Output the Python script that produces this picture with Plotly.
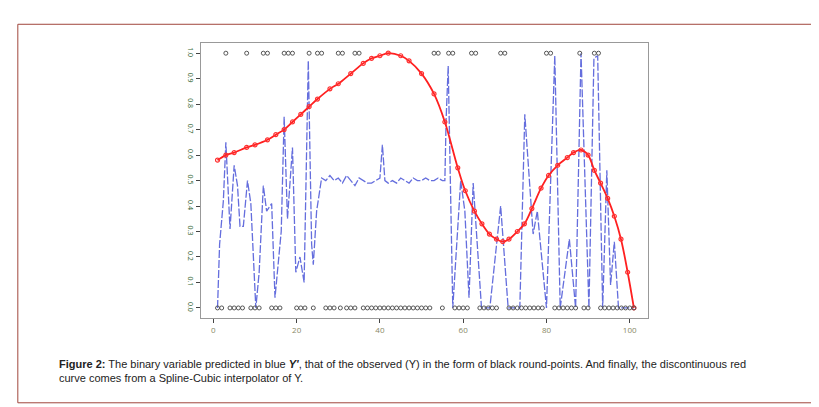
import plotly.graph_objects as go

# predicted Y' (blue)
blue_x = [1, 1.5, 2.4, 3, 4, 5, 5.8, 6.4, 7.2, 8.2, 9, 10.2, 11, 12, 12.8, 14, 14.8, 16.3, 17, 17.8,
          19, 19.8, 20.8, 21.8, 22.8, 23.6, 24, 24.8, 26, 27, 28, 29, 30, 31, 32, 33, 34, 35, 36, 37,
          38, 39, 40, 40.6, 41.2, 42, 43, 44, 45, 46, 47, 48, 49, 50, 51, 52, 53, 54, 55, 55.6,
          55.9, 56.4, 57.5, 59.4, 60.4, 61.4, 62.4, 64.4, 66.4, 69, 70.8, 73.6, 74.8, 76.8, 77.8, 80,
          82, 83.3, 85.5, 87, 88.3, 90.2, 91.4, 92.3, 93.5, 94.5, 95.4, 96.3, 97.3, 101]
blue_y = [0.0, 0.25, 0.42, 0.65, 0.31, 0.56, 0.48, 0.32, 0.32, 0.5, 0.41, 0.0, 0.14, 0.48, 0.38, 0.41, 0.04, 0.3, 0.75, 0.35,
          0.63, 0.14, 0.2, 0.1, 0.97, 0.25, 0.17, 0.38, 0.51, 0.5, 0.52, 0.5, 0.51, 0.49, 0.52, 0.5, 0.48, 0.51, 0.5, 0.49,
          0.49, 0.5, 0.51, 0.64, 0.5, 0.49, 0.5, 0.49, 0.51, 0.5, 0.49, 0.51, 0.5, 0.5, 0.51, 0.5, 0.5, 0.51, 0.5, 0.5,
          0.74, 0.95, 0.0, 0.5, 0.38, 0.04, 0.49, 0.0, 0.0, 0.4, 0.0, 0.0, 0.76, 0.29, 0.38, 0.0,
          0.99, 0.0, 0.27, 0.0, 1.0, 0.0, 0.98, 0.99, 0.0, 0.54, 0.09, 0.26, 0.0, 0.0]

# cubic spline of Y (red)
red_x = [1, 3, 5, 8, 10, 13, 15, 17, 19, 21, 23, 25, 28, 30, 33, 36, 38, 40, 42, 45, 47, 50, 53,
         55.6, 58.7, 60.5, 62.7, 64.5, 66.3, 68, 69.5, 71, 73, 74.7, 76.5, 78.7, 80.5, 82.7, 85, 86.5,
         88.3, 90, 91.5, 93, 94.7, 96.3, 97.9, 99.5, 101]
red_y = [0.58, 0.6, 0.61, 0.63, 0.64, 0.66, 0.68, 0.7, 0.73, 0.76, 0.79, 0.82, 0.86, 0.88, 0.92, 0.96, 0.98, 0.99, 1.0, 0.99, 0.97, 0.92, 0.84,
         0.73, 0.55, 0.46, 0.38, 0.33, 0.29, 0.27, 0.26, 0.27, 0.3, 0.33, 0.39, 0.47, 0.52, 0.56, 0.59, 0.61,
         0.62, 0.6, 0.54, 0.49, 0.43, 0.36, 0.27, 0.14, 0.0]

# observed Y (black round points)
obs_top_x = [3, 8, 12, 13, 17, 18, 19, 23, 25, 26, 30, 31, 34, 35, 53, 54, 56.5, 57.5, 62, 63, 69, 70,
             80, 81, 88, 91.5, 92.5]
obs_bot_x = [1, 2, 4, 5, 6, 7, 9, 10, 11, 14, 15, 16, 20, 21, 22, 24, 27, 28, 29, 30.5, 32, 33, 34, 36,
             37, 38, 39, 40, 41, 42, 43, 44, 45, 46, 47, 48, 49, 50, 51, 52, 55, 58, 59, 60, 61, 64, 65,
             66, 67, 68, 71, 72, 73, 74, 75, 76, 77, 78, 79, 82, 83, 84, 85, 86, 87, 89, 90, 93, 94, 95,
             96, 97, 98, 99, 100, 101]

fig = go.Figure()
fig.add_scatter(x=blue_x, y=blue_y, mode="lines", line=dict(color="#4a55d8", width=1.3, dash="8px,2px"),
                opacity=0.85)
fig.add_scatter(x=red_x, y=red_y, mode="lines+markers", line=dict(color="#ff2020", width=1.8, shape="spline"),
                marker=dict(size=4, color="#ff3030", symbol="circle-open", line=dict(width=1.2)))
fig.add_scatter(x=obs_top_x, y=[1] * len(obs_top_x), mode="markers",
                marker=dict(size=4, symbol="circle-open", color="#555"))
fig.add_scatter(x=obs_bot_x, y=[0] * len(obs_bot_x), mode="markers",
                marker=dict(size=4, symbol="circle-open", color="#555"))

fig.add_shape(type="rect", xref="paper", yref="paper", x0=0.012, x1=0.984, y0=0.03, y1=0.96,
              line=dict(color="#a0463c", width=1))
fig.add_annotation(xref="paper", yref="paper", x=0.06, y=0.145, xanchor="left", yanchor="top",
                   align="left", showarrow=False, font=dict(family="Arial", size=11, color="#222"),
                   text="<b>Figure 2:</b> The binary variable predicted in blue <b><i>Y'</i></b>, that of the observed (Y) in the form of black round-points. And finally, the discontinuous red<br>curve comes from a Spline-Cubic interpolator of Y.")

fig.update_layout(
    width=819, height=407, showlegend=False,
    paper_bgcolor="white", plot_bgcolor="white",
    margin=dict(l=0, r=0, t=0, b=0),
    xaxis=dict(domain=[0.236, 0.781], range=[-2.9, 104.3], tickvals=[0, 20, 40, 60, 80, 100],
               showgrid=False, zeroline=False, showline=True, linecolor="#999", mirror=True,
               ticks="outside", ticklen=4, tickfont=dict(size=8, color="#886")),
    yaxis=dict(domain=[0.238, 0.914], range=[-0.04, 1.04], tickvals=[0, 0.1, 0.2, 0.3, 0.4, 0.5, 0.6, 0.7, 0.8, 0.9, 1.0],
               tickformat=".1f", tickangle=90, showgrid=False, zeroline=False, showline=True,
               linecolor="#999", mirror=True, ticks="outside", ticklen=4,
               tickfont=dict(size=7, color="#363")),
)

fig.write_html("out.html")
